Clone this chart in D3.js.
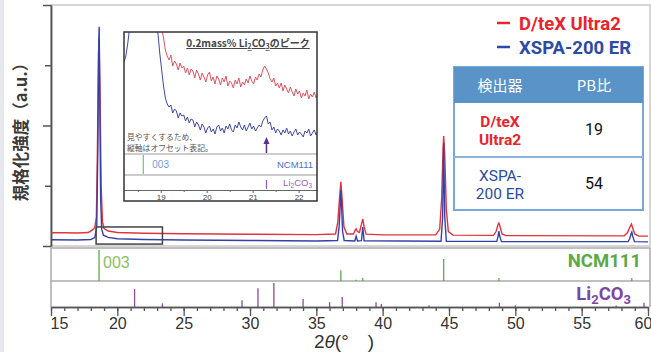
<!DOCTYPE html>
<html>
<head>
<meta charset="utf-8">
<script src="https://cdn.jsdelivr.net/npm/d3@7"></script>
<style>
  body { margin: 0; background: #fff; }
  svg { display: block; }
</style>
</head>
<body>
<svg id="chart" width="651" height="352"></svg>
<script>
// main pattern, [2theta, normalized intensity]
const redMain = [[15,5.5],[16,5.5],[17,5.4],[17.8,5.6],[18.1,6.6],[18.3,7.6],[18.42,12],[18.5,40],[18.58,80],[18.63,86],[18.7,62],[18.78,25],[18.88,10],[19.0,7.2],[19.3,6.2],[20,5.6],[22,5.3],[25,5.1],[30,4.9],[35,4.7],[36.45,5.0],[36.62,10],[36.75,20],[36.85,26.6],[36.95,19],[37.08,8],[37.3,5.0],[37.8,5.0],[37.92,6.5],[38.0,7.1],[38.1,6.0],[38.25,5.6],[38.4,9],[38.5,11.2],[38.6,8],[38.75,4.9],[40,4.6],[44.0,4.6],[44.3,7],[44.45,20],[44.55,40],[44.6,45.6],[44.68,38],[44.8,15],[44.95,6],[45.3,4.5],[48.35,4.4],[48.55,6],[48.7,9],[48.76,9.5],[48.85,8],[49.0,5],[49.3,4.3],[58.2,4.2],[58.45,5.5],[58.6,7.5],[58.75,9.1],[58.85,7.5],[59.0,5],[59.3,4.1],[60,4.1]];
const blueMain = [[15,2.6],[17,2.5],[18.0,2.7],[18.3,3.5],[18.45,8],[18.53,40],[18.6,85],[18.63,91],[18.68,60],[18.74,20],[18.82,7],[18.95,4.5],[19.3,3.6],[20,3.0],[22,2.7],[25,2.5],[30,2.3],[35,2.1],[36.6,2.3],[36.72,8],[36.8,17],[36.85,23.2],[36.9,17],[36.98,6],[37.1,2.3],[37.9,2.1],[38.0,4.1],[38.1,2.1],[38.4,2.2],[38.5,7.9],[38.6,2.2],[44.4,2.0],[44.52,12],[44.6,42.7],[44.68,12],[44.8,2.0],[48.6,1.9],[48.7,4],[48.76,6.2],[48.83,4],[48.95,1.8],[58.5,1.8],[58.62,3],[58.72,5],[58.78,5.8],[58.85,4],[58.98,1.8],[60,1.7]];

// reference stick patterns
const ncmPeaks = [18.62, 36.85, 38.0, 38.5, 44.6, 48.76, 58.78];
const ncmHeights = [100, 35, 4, 10, 71, 10, 10];
const liPeaks = [21.3, 23.4, 29.4, 30.6, 31.8, 34.0, 36.0, 36.95, 39.5, 39.9, 43.5, 48.8, 50.0, 57.6, 59.7];
const liHeights = [75, 15, 28, 78, 100, 33, 20, 42, 20, 12, 6, 18, 6, 6, 18];

const xTicks = [15, 20, 25, 30, 35, 40, 45, 50, 55, 60];

// inset (zoom on 18.2-22.4 deg, offset intensities)
const insetBlue = [[18.2,92],[18.24,98],[18.28,110],[18.32,125],[18.4,200],[18.6,400],[18.8,200],[18.9,128],[18.94,120],[18.98,100],[19.02,84],[19.06,68],[19.1,56],[19.14,50],[19.18,47],[19.22,49],[19.26,41],[19.3,45],[19.34,43],[19.38,36],[19.42,41],[19.46,38],[19.5,39],[19.54,33],[19.58,37],[19.62,31],[19.66,35],[19.7,34],[19.74,27],[19.78,32],[19.82,29],[19.86,24],[19.9,30],[19.94,27],[19.98,21],[20.02,26],[20.06,28],[20.1,22],[20.14,25],[20.18,20],[20.22,27],[20.26,29],[20.3,23],[20.34,26],[20.38,21],[20.42,28],[20.46,25],[20.5,30],[20.54,24],[20.58,22],[20.62,29],[20.66,26],[20.7,32],[20.74,27],[20.78,24],[20.82,29],[20.86,23],[20.9,27],[20.94,31],[20.98,25],[21.02,28],[21.06,23],[21.1,26],[21.14,29],[21.18,27],[21.22,33],[21.26,36],[21.3,38],[21.34,30],[21.38,32],[21.42,24],[21.46,27],[21.5,21],[21.54,25],[21.58,23],[21.62,19],[21.66,24],[21.7,21],[21.74,26],[21.78,20],[21.82,23],[21.86,18],[21.9,22],[21.94,25],[21.98,19],[22.02,22],[22.06,20],[22.1,17],[22.14,23],[22.18,21],[22.22,25],[22.26,18],[22.3,21],[22.34,24],[22.38,19],[22.42,22]];
const insetRed = [[18.2,150],[18.5,300],[18.7,300],[18.9,180],[19.02,126],[19.06,116],[19.1,104],[19.14,98],[19.18,94],[19.22,99],[19.26,88],[19.3,93],[19.34,90],[19.38,84],[19.42,91],[19.46,86],[19.5,88],[19.54,81],[19.58,86],[19.62,79],[19.66,85],[19.7,83],[19.74,76],[19.78,84],[19.82,80],[19.86,74],[19.9,81],[19.94,77],[19.98,72],[20.02,79],[20.06,82],[20.1,73],[20.14,77],[20.18,70],[20.22,78],[20.26,75],[20.3,69],[20.34,76],[20.38,72],[20.42,78],[20.46,68],[20.5,73],[20.54,71],[20.58,66],[20.62,74],[20.66,70],[20.7,76],[20.74,67],[20.78,72],[20.82,69],[20.86,75],[20.9,71],[20.94,78],[20.98,73],[21.02,70],[21.06,77],[21.1,74],[21.14,80],[21.18,77],[21.22,84],[21.26,88],[21.3,85],[21.34,81],[21.38,75],[21.42,72],[21.46,76],[21.5,68],[21.54,71],[21.58,66],[21.62,71],[21.66,63],[21.7,69],[21.74,65],[21.78,61],[21.82,67],[21.86,62],[21.9,58],[21.94,65],[21.98,60],[22.02,63],[22.06,56],[22.1,61],[22.14,58],[22.18,64],[22.22,55],[22.26,60],[22.3,57],[22.34,62],[22.38,56],[22.42,61]];
const insetTicks = [19, 20, 21, 22];
const insetNcm = [18.62];
const insetLi = [21.3];
const zoomBox = [18.4, 23.4];

// legend + table
const seriesNames = ["D/teX Ultra2", "XSPA-200 ER"];
const seriesColors = ["#e8242c", "#2b4ba6"];
const curveColors = ["#e0333f", "#3442a8"];
const tableHead = ["検出器", "PB比"];
const tableNames = [["D/teX", "Ultra2"], ["XSPA-", "200 ER"]];
const pbRatios = [19, 54];

const svg = d3.select("#chart");
const sans = "Roboto, 'Liberation Sans', Arial, sans-serif";
const narrow = "'Liberation Sans Narrow', 'Liberation Sans', Arial, sans-serif";
const jp = "'Noto Sans CJK JP', 'Noto Sans', sans-serif";

svg.append("rect").attr("x", 0).attr("y", 0).attr("width", 4).attr("height", 352).attr("fill", "#e7e7ee");

const x = d3.scaleLinear().domain([15, 60]).range([51, 648]);
const y = d3.scaleLinear().domain([0, 100]).range([246, 5]);
const yNcm = d3.scaleLinear().domain([0, 100]).range([281, 250]);
const yLi = d3.scaleLinear().domain([0, 100]).range([307, 283]);

// frames
svg.append("rect").attr("x", 51).attr("y", 5).attr("width", 599).attr("height", 241)
  .attr("fill", "none").attr("stroke", "#c9c9c9").attr("stroke-width", 1.5);
svg.append("rect").attr("x", 51).attr("y", 248).attr("width", 599).attr("height", 33)
  .attr("fill", "none").attr("stroke", "#aaa").attr("stroke-width", 1.5);
svg.append("line").attr("x1", 51).attr("x2", 51).attr("y1", 281).attr("y2", 307).attr("stroke", "#aaa").attr("stroke-width", 1.5);
svg.append("line").attr("x1", 650).attr("x2", 650).attr("y1", 281).attr("y2", 307).attr("stroke", "#aaa").attr("stroke-width", 1.5);

// y axis, no labels
const yAxisMajor = svg.append("g").attr("transform", "translate(51,0)")
  .call(d3.axisLeft(y).tickValues([0, 50, 100]).tickSize(8).tickSizeOuter(0).tickFormat(""));
const yAxisMinor = svg.append("g").attr("transform", "translate(51,0)")
  .call(d3.axisLeft(y).tickValues([25, 75]).tickSize(6).tickSizeOuter(0).tickFormat(""));
[yAxisMajor, yAxisMinor].forEach(g => {
  g.selectAll("path, line").attr("stroke", "#555").attr("stroke-width", 1.5);
});

// curves
const line = d3.line().x(d => x(d[0])).y(d => y(d[1]));
svg.append("defs").append("clipPath").attr("id", "mainClip")
  .append("rect").attr("x", 51).attr("y", 5).attr("width", 599).attr("height", 241);
const curves = svg.append("g").attr("clip-path", "url(#mainClip)");
[redMain, blueMain].forEach((s, i) => {
  curves.append("path").datum(s).attr("d", line)
    .attr("fill", "none").attr("stroke", curveColors[i]).attr("stroke-width", 1.4);
});

// zoom region marker
svg.append("rect")
  .attr("x", x(zoomBox[0])).attr("y", y(7.9))
  .attr("width", x(zoomBox[1]) - x(zoomBox[0])).attr("height", y(0.8) - y(7.9))
  .attr("fill", "none").attr("stroke", "#444").attr("stroke-width", 1.5);

// stick patterns
svg.append("g").selectAll("line").data(ncmPeaks).join("line")
  .attr("x1", d => x(d)).attr("x2", d => x(d))
  .attr("y1", yNcm(0)).attr("y2", (d, i) => yNcm(ncmHeights[i]))
  .attr("stroke", "#5caa4a").attr("stroke-width", 1.3);
svg.append("g").selectAll("line").data(liPeaks).join("line")
  .attr("x1", d => x(d)).attr("x2", d => x(d))
  .attr("y1", yLi(0)).attr("y2", (d, i) => yLi(liHeights[i]))
  .attr("stroke", "#8e4a9e").attr("stroke-width", 1.3);

svg.append("text").attr("x", x(18.62) + 4).attr("y", 268)
  .attr("font-family", narrow).attr("font-size", 16).attr("fill", "#8cc060").text("003");
svg.append("text").attr("x", 641).attr("y", 267).attr("text-anchor", "end")
  .attr("font-family", sans).attr("font-weight", "bold").attr("font-size", 18.5).attr("fill", "#5caa46").text("NCM111");
const liLab = svg.append("text").attr("x", 631).attr("y", 300).attr("text-anchor", "end")
  .attr("font-family", sans).attr("font-weight", "bold").attr("font-size", 18.5).attr("fill", "#7d45a6");
liLab.append("tspan").text("Li");
liLab.append("tspan").attr("font-size", 13).attr("dy", 4).text("2");
liLab.append("tspan").attr("dy", -4).text("CO");
liLab.append("tspan").attr("font-size", 13).attr("dy", 4).text("3");

// x axis
const xMinor = svg.append("g").attr("transform", "translate(0,307)")
  .call(d3.axisBottom(x).tickValues(d3.range(15, 61)).tickSize(4).tickSizeOuter(0).tickFormat(""));
const xMajor = svg.append("g").attr("transform", "translate(0,307)")
  .call(d3.axisBottom(x).tickValues(xTicks).tickSize(9).tickSizeOuter(0).tickPadding(2));
[xMinor, xMajor].forEach(g => g.selectAll("path, line").attr("stroke", "#555").attr("stroke-width", 1.3));
xMajor.selectAll("text").attr("font-family", narrow).attr("font-size", 16).attr("fill", "#333")
  .attr("dx", d => d === 15 ? 8 : (d === 60 ? -5 : 0));

const xLab = svg.append("text").attr("x", 344).attr("y", 348).attr("text-anchor", "middle")
  .attr("font-family", "'Liberation Sans', Arial, sans-serif").attr("font-size", 19).attr("fill", "#333");
xLab.append("tspan").text("2");
xLab.append("tspan").attr("font-style", "italic").text("θ");
xLab.append("tspan").text("(°\u3000)");

svg.append("text").attr("transform", "translate(27,128) rotate(-90)").attr("text-anchor", "middle")
  .attr("font-family", jp).attr("font-weight", "bold").attr("font-size", 16.5).attr("fill", "#3a3a3a")
  .text("規格化強度（a.u.）");

// inset
const xIn = d3.scaleLinear().domain([18.2, 22.4]).range([124, 317]);
const yIn = d3.scaleLinear().domain([0, 122]).range([154, 32]);
const inset = svg.append("g");
inset.append("rect").attr("x", 124).attr("y", 32).attr("width", 193).attr("height", 169)
  .attr("fill", "#fff");
svg.select("defs").append("clipPath").attr("id", "insetClip")
  .append("rect").attr("x", 124).attr("y", 32).attr("width", 193).attr("height", 122);
const inLine = d3.line().x(d => xIn(d[0])).y(d => yIn(d[1]));
const inCurves = inset.append("g").attr("clip-path", "url(#insetClip)");
[insetRed, insetBlue].forEach((s, i) => {
  inCurves.append("path").datum(s).attr("d", inLine)
    .attr("fill", "none").attr("stroke", i === 0 ? "#dc5560" : "#4048a8").attr("stroke-width", 1);
});
[154, 175].forEach(v => inset.append("line").attr("x1", 124).attr("x2", 317).attr("y1", v).attr("y2", v)
  .attr("stroke", "#999").attr("stroke-width", 1.2));
inset.selectAll(".ncm").data(insetNcm).join("line")
  .attr("x1", d => xIn(d)).attr("x2", d => xIn(d)).attr("y1", 155).attr("y2", 174)
  .attr("stroke", "#7cc070").attr("stroke-width", 1.2);
inset.selectAll(".li").data(insetLi).join("line")
  .attr("x1", d => xIn(d)).attr("x2", d => xIn(d)).attr("y1", 180).attr("y2", 189)
  .attr("stroke", "#9a5ab8").attr("stroke-width", 1.2);

const inAxisMinor = inset.append("g").attr("transform", "translate(0,190)")
  .call(d3.axisBottom(xIn).tickValues([18.5, 19.5, 20.5, 21.5]).tickSize(2).tickSizeOuter(0).tickFormat(""));
const inAxis = inset.append("g").attr("transform", "translate(0,190)")
  .call(d3.axisBottom(xIn).tickValues(insetTicks).tickSize(3).tickSizeOuter(0).tickPadding(1)
    .tickFormat(d3.format("d")));
[inAxisMinor, inAxis].forEach(g => g.selectAll("path, line").attr("stroke", "#666"));
inAxis.selectAll("text").attr("font-family", narrow).attr("font-size", 8).attr("fill", "#444");

inset.append("text").attr("x", xIn(18.62) + 9).attr("y", 168)
  .attr("font-family", narrow).attr("font-size", 10).attr("fill", "#7a9ad8").text("003");
inset.append("text").attr("x", 313).attr("y", 168).attr("text-anchor", "end")
  .attr("font-family", "'Liberation Sans', Arial, sans-serif").attr("font-size", 9.5).attr("fill", "#4f72cc").text("NCM111");
const inLi = inset.append("text").attr("x", 312).attr("y", 186).attr("text-anchor", "end")
  .attr("font-family", "'Liberation Sans', Arial, sans-serif").attr("font-size", 9.5).attr("fill", "#9c5cc0");
inLi.append("tspan").text("Li");
inLi.append("tspan").attr("font-size", 6.5).attr("dy", 2).text("2");
inLi.append("tspan").attr("dy", -2).text("CO");
inLi.append("tspan").attr("font-size", 6.5).attr("dy", 2).text("3");

// arrow at the Li2CO3 peak
inset.append("line").attr("x1", xIn(21.3)).attr("x2", xIn(21.3)).attr("y1", 153).attr("y2", 142)
  .attr("stroke", "#5a2d91").attr("stroke-width", 1.5);
inset.append("path")
  .attr("d", `M${xIn(21.3) - 3},${144} L${xIn(21.3)},${137} L${xIn(21.3) + 3},${144} Z`)
  .attr("fill", "#5a2d91");

const inTitle = inset.append("text").attr("x", 248).attr("y", 47).attr("text-anchor", "middle")
  .attr("font-family", jp).attr("font-weight", "bold").attr("font-size", 10)
  .attr("fill", "#444").attr("text-decoration", "underline");
inTitle.append("tspan").text("0.2mass% Li");
inTitle.append("tspan").attr("font-size", 7).attr("dy", 2).text("2");
inTitle.append("tspan").attr("dy", -2).text("CO");
inTitle.append("tspan").attr("font-size", 7).attr("dy", 2).text("3");
inTitle.append("tspan").attr("dy", -2).text("のピーク");

["見やすくするため、", "縦軸はオフセット表記。"].forEach((t, i) => {
  inset.append("text").attr("x", 127).attr("y", 140 + i * 11)
    .attr("font-family", jp).attr("font-size", 7.8).attr("fill", "#555").text(t);
});
inset.append("rect").attr("x", 124).attr("y", 32).attr("width", 193).attr("height", 169)
  .attr("fill", "none").attr("stroke", "#333").attr("stroke-width", 1.5);

// legend
seriesNames.forEach((n, i) => {
  const yy = 23 + i * 24;
  svg.append("line").attr("x1", 497).attr("x2", 510).attr("y1", yy).attr("y2", yy)
    .attr("stroke", seriesColors[i]).attr("stroke-width", 2.5);
  svg.append("text").attr("x", 519).attr("y", yy + 6.5)
    .attr("font-family", sans).attr("font-weight", "bold").attr("font-size", 18.5)
    .attr("fill", seriesColors[i]).text(n);
});

// table
const tx0 = 454, tx1 = 643, colMid = [500, 594];
const rowY = [67, 103, 157, 210];
const table = svg.append("g");
table.append("rect").attr("x", tx0).attr("y", rowY[0]).attr("width", tx1 - tx0).attr("height", rowY[3] - rowY[0])
  .attr("fill", "#fff").attr("stroke", "#7aa8d8").attr("stroke-width", 2);
table.append("rect").attr("x", tx0).attr("y", rowY[0]).attr("width", tx1 - tx0).attr("height", rowY[1] - rowY[0])
  .attr("fill", "#5a93c8");
table.append("line").attr("x1", tx0).attr("x2", tx1).attr("y1", rowY[2]).attr("y2", rowY[2])
  .attr("stroke", "#8bb3dc").attr("stroke-width", 2);
tableHead.forEach((h, i) => {
  table.append("text").attr("x", colMid[i]).attr("y", 91).attr("text-anchor", "middle")
    .attr("font-family", jp).attr("font-size", 15).attr("fill", "#fff").text(h);
});
tableNames.forEach((lines, r) => {
  lines.forEach((t, k) => {
    table.append("text").attr("x", colMid[0]).attr("y", rowY[r + 1] + 24 + k * 18).attr("text-anchor", "middle")
      .attr("font-family", sans).attr("font-weight", r === 0 ? "bold" : "normal").attr("font-size", 15.5)
      .attr("fill", seriesColors[r]).text(t);
  });
  table.append("text").attr("x", colMid[1]).attr("y", rowY[r + 1] + 32).attr("text-anchor", "middle")
    .attr("font-family", sans).attr("font-size", 16).attr("fill", "#111").text(pbRatios[r]);
});
</script>
</body>
</html>
